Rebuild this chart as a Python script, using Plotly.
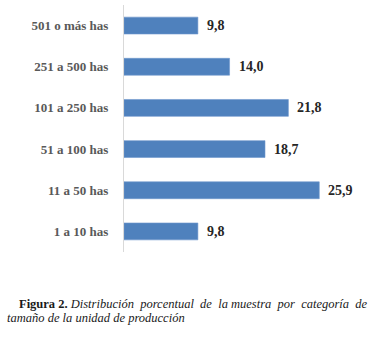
import plotly.graph_objects as go

# Farm-size categories (bottom to top) and share of the sample (%)
categories = ["1 a 10 has", "11 a 50 has", "51 a 100 has",
              "101 a 250 has", "251 a 500 has", "501 o más has"]
values = [9.8, 25.9, 18.7, 21.8, 14.0, 9.8]
value_labels = [f"{v:.1f}".replace(".", ",") for v in values]

W, H = 377, 344
L, R, T, B = 124, 17, 5, 92
plot_w = W - L - R
plot_h = H - T - B
x_max = 31.3

fig = go.Figure(go.Bar(
    x=values, y=categories, orientation="h",
    marker=dict(color="#4F81BD", line=dict(color="#6f97cc", width=0.6)),
    width=0.41, hoverinfo="skip",
))

# value labels just past the end of each bar
for c, v, t in zip(categories, values, value_labels):
    fig.add_annotation(x=v, y=c, xref="x", yref="y", text=f"<b>{t}</b>",
                       showarrow=False, xanchor="left", xshift=7,
                       font=dict(family="Liberation Serif", size=14, color="#262626"))

def px_x(p):
    return (p - L) / plot_w

def px_y(p):
    return (T + plot_h - p) / plot_h

# caption; first line widened with extra word gaps to read as justified
cap_font = dict(family="Liberation Serif", size=12.5, color="#1a1a1a")
gap = " &nbsp;"
line1_words = ["Distribución", "porcentual", "de", "la", "muestra", "por", "categoría", "de"]
line1 = gap.join(line1_words[:4]) + " " + gap.join(line1_words[4:])
fig.add_annotation(xref="paper", yref="paper", x=px_x(17), y=px_y(304),
                   xanchor="left", yanchor="middle", showarrow=False,
                   text=f"<b>Figura 2.</b> <i>{line1}</i>",
                   font=cap_font)
fig.add_annotation(xref="paper", yref="paper", x=px_x(5), y=px_y(318),
                   xanchor="left", yanchor="middle", showarrow=False,
                   text="<i>tamaño de la unidad de producción</i>",
                   font=cap_font)

fig.update_layout(
    width=W, height=H,
    margin=dict(l=L, r=R, t=T, b=B, pad=0),
    paper_bgcolor="white", plot_bgcolor="white",
    showlegend=False,
    xaxis=dict(range=[0, x_max], visible=False, fixedrange=True),
    yaxis=dict(categoryorder="array", categoryarray=categories,
               range=[-0.5, 5.5],
               showline=True, linecolor="#d9d9d9", linewidth=1,
               showgrid=False, zeroline=False, ticks="",
               ticklabelstandoff=12,
               tickfont=dict(family="Liberation Serif", size=13, color="#595959",
                             weight="bold"),
               fixedrange=True),
)

fig.write_html("out.html")
